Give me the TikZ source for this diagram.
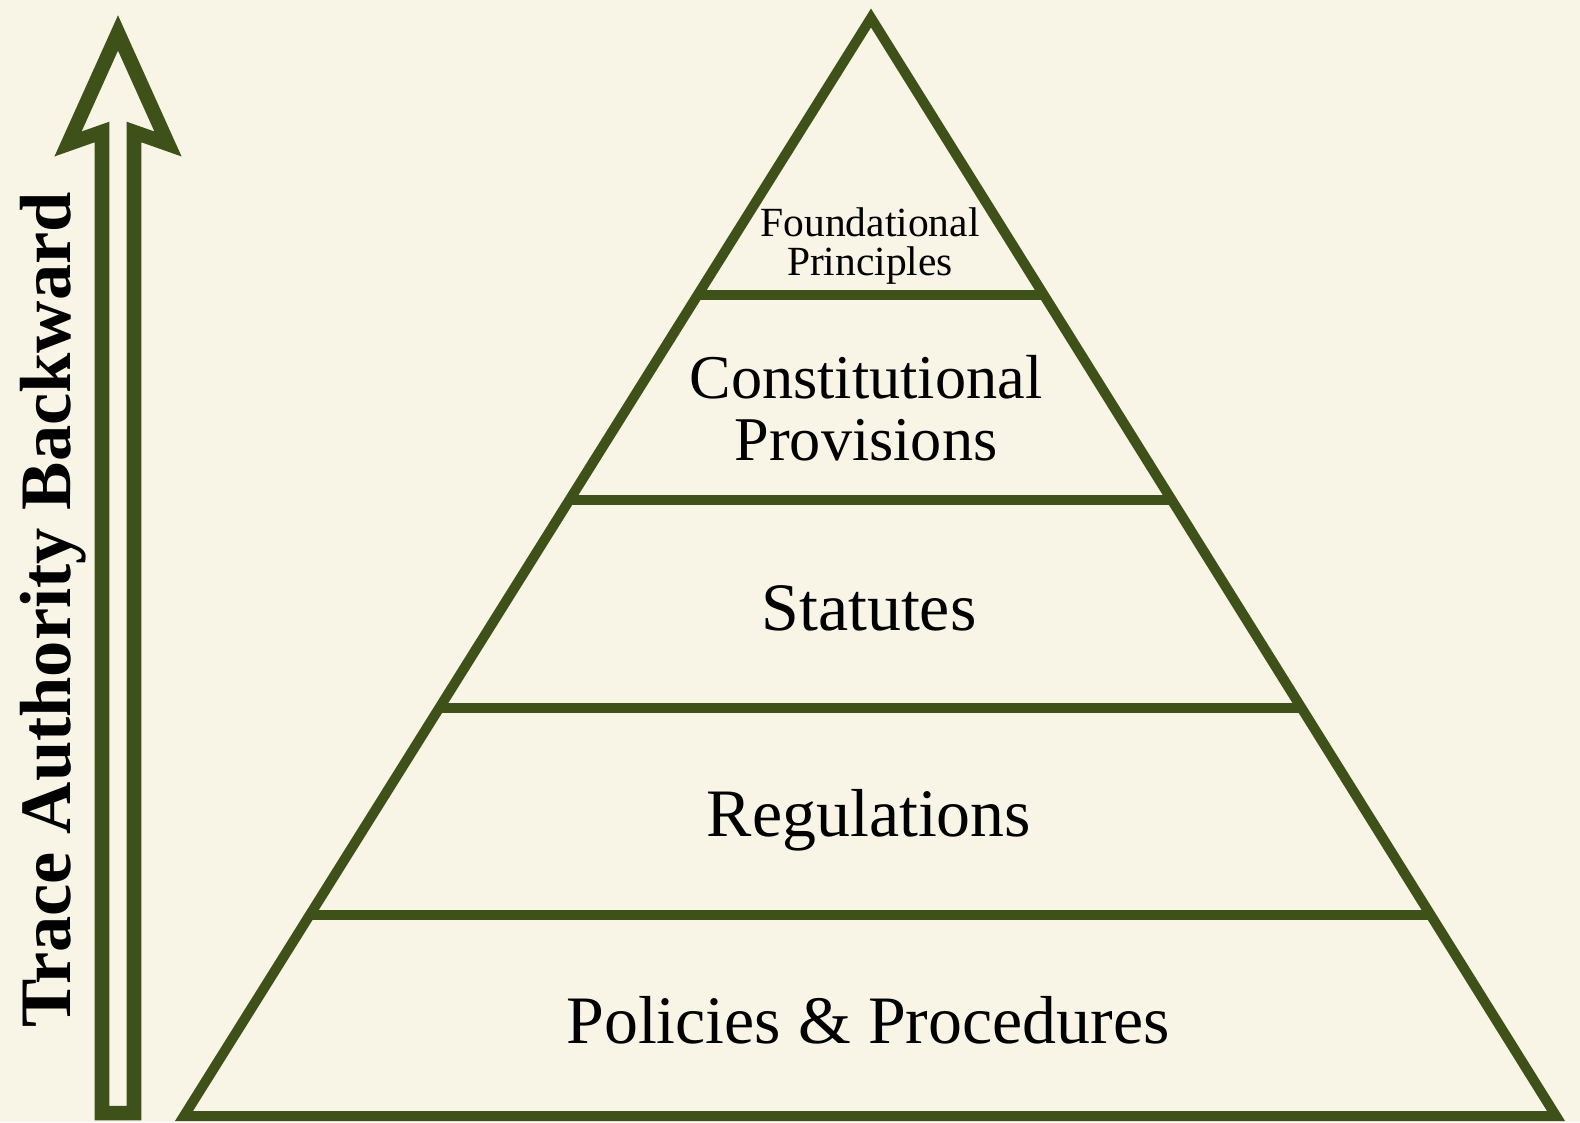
\documentclass[tikz,border=0pt]{standalone}
\usepackage{fontspec}
\setmainfont{Liberation Serif}
\usetikzlibrary{calc}

\definecolor{parchment}{HTML}{F8F4E6}
\definecolor{olive}{HTML}{3D5118}

\begin{document}
\begin{tikzpicture}[x=0.01cm,y=-0.01cm,
  tier/.style={draw=olive,line width=0.1cm},
  tiertext/.style={anchor=base,inner sep=0pt,font=\fontsize{19.3}{20}\selectfont}]
\fill[parchment] (0,0) rectangle (1580,1122);
\useasboundingbox (0,0) rectangle (1580,1122);

% hollow arrow on the left
\draw[draw=olive,fill=parchment,line width=0.145cm,line join=miter]
  (118,33) -- (168,144) -- (134,132) -- (134,1113) -- (102,1113)
  -- (102,132) -- (68,144) -- cycle;
\node[rotate=90,anchor=base,inner sep=0pt,font=\bfseries\fontsize{20.6}{22}\selectfont]
  (trace) at (70,610) {Trace Authority Backward};

% pyramid
\coordinate (apex) at (871,18);
\coordinate (bl) at (184,1116);
\coordinate (br) at (1556,1116);
\draw[tier,line join=miter] (apex) -- (br) -- (bl) -- cycle;
\foreach \t in {0.2523,0.4390,0.6284,0.8169}
  \draw[tier] ($(apex)!\t!(bl)$) -- ($(apex)!\t!(br)$);

% tier labels
\node[tiertext,font=\fontsize{11.8}{12}\selectfont] (found) at (870,237) {Foundational};
\node[tiertext,font=\fontsize{11.8}{12}\selectfont] (princ) at (870,276) {Principles};
\node[tiertext,font=\fontsize{17.7}{18}\selectfont] (const) at (866,399) {Constitutional};
\node[tiertext,font=\fontsize{17.7}{18}\selectfont] (prov) at (866,461) {Provisions};
\node[tiertext] (stat) at (869,630) {Statutes};
\node[tiertext] (regs) at (869,836) {Regulations};
\node[tiertext] (pols) at (868,1043) {Policies \& Procedures};
\end{tikzpicture}
\end{document}
